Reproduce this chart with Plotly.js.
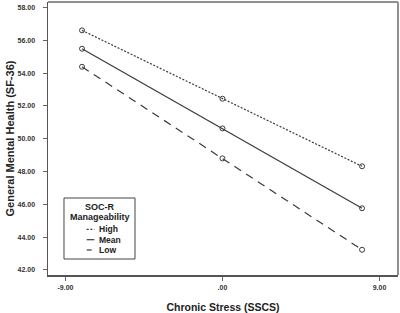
<!DOCTYPE html>
<html>
<head>
<meta charset="utf-8">
<script src="https://cdn.plot.ly/plotly-3.0.1.min.js"></script>
<style>html,body{margin:0;padding:0;background:#fff;}#chart{width:400px;height:313px;}</style>
</head>
<body>
<div id="chart"></div>
<script>
// ---- data ----
var stressX = [-8.05, 0, 8.0];
var highVals = [56.61, 52.44, 48.32];
var meanVals = [55.49, 50.63, 45.76];
var lowVals = [54.39, 48.80, 43.23];
var seriesNames = ['High', 'Mean', 'Low'];
var legendTitle = ['SOC-R', 'Manageability'];
var xTickVals = [-9, 0, 9];
var xTickText = ['-9.00', '.00', '9.00'];
var yTickVals = [42, 44, 46, 48, 50, 52, 54, 56, 58];
var xTitle = 'Chronic Stress (SSCS)';
var yTitle = 'General Mental Health (SF-36)';

// ---- styling ----
var FONT = 'Liberation Sans, Arial, sans-serif';
var lineColor = '#3a3a3a';
var dashes = ['2px,1.6px', 'solid', '8px,6px'];
var seriesVals = [highVals, meanVals, lowVals];

var traces = seriesVals.map(function (vals, i) {
  return {
    x: stressX, y: vals, name: seriesNames[i],
    type: 'scatter', mode: 'lines+markers',
    line: {color: lineColor, width: 1.2, dash: dashes[i]},
    marker: {symbol: 'circle-open', size: 5, color: lineColor, line: {width: 1, color: lineColor}},
    showlegend: false, hoverinfo: 'x+y+name'
  };
});

// legend box geometry (paper coords)
var lgX0 = 0.0457, lgX1 = 0.2486, lgY0 = 0.0586, lgY1 = 0.282;
var itemY = [0.1674, 0.1293, 0.0916];
var sampleX0 = 0.1106, sampleX1 = 0.1323, textX = 0.139;

var shapes = [
  {type: 'line', xref: 'paper', yref: 'paper', x0: 0, x1: 1, y0: 1, y1: 1, line: {color: '#8f8f8f', width: 2}},
  {type: 'line', xref: 'paper', yref: 'paper', x0: 1, x1: 1, y0: 0, y1: 1, line: {color: '#8f8f8f', width: 2}},
  {type: 'rect', xref: 'paper', yref: 'paper', x0: lgX0, x1: lgX1, y0: lgY0, y1: lgY1,
   line: {color: '#444', width: 1}, fillcolor: 'rgba(255,255,255,0)'}
];
var annotations = [
  {xref: 'paper', yref: 'paper', x: (lgX0 + lgX1) / 2, y: 0.248, text: legendTitle[0], showarrow: false,
   xanchor: 'center', yanchor: 'middle', font: {family: FONT, size: 9, weight: 'bold', color: '#222'}},
  {xref: 'paper', yref: 'paper', x: (lgX0 + lgX1) / 2, y: 0.2136, text: legendTitle[1], showarrow: false,
   xanchor: 'center', yanchor: 'middle', font: {family: FONT, size: 9, weight: 'bold', color: '#222'}}
];
seriesNames.forEach(function (nm, i) {
  shapes.push({type: 'line', xref: 'paper', yref: 'paper', x0: sampleX0, x1: sampleX1, y0: itemY[i], y1: itemY[i],
    line: {color: lineColor, width: 1.2, dash: i === 2 ? '5px,3px' : dashes[i]}});
  annotations.push({xref: 'paper', yref: 'paper', x: textX, y: itemY[i], text: nm, showarrow: false,
    xanchor: 'left', yanchor: 'middle', font: {family: FONT, size: 8.5, weight: 'bold', color: '#222'}});
});

var tickFont = {family: FONT, size: 7, weight: 'bold', color: '#333'};

var layout = {
  width: 400, height: 313,
  margin: {l: 48, r: 2, t: 2, b: 38},
  paper_bgcolor: '#fff', plot_bgcolor: '#fff',
  font: {family: FONT},
  xaxis: {
    range: [-10, 10.06], tickvals: xTickVals, ticktext: xTickText,
    ticks: 'outside', ticklen: 4, tickwidth: 1, tickcolor: '#666',
    showline: true, linecolor: '#555', linewidth: 1.5,
    showgrid: false, zeroline: false, tickfont: tickFont, ticklabelstandoff: 1,
    title: {text: xTitle, font: {family: FONT, size: 10.5, weight: 'bold', color: '#222'}}
  },
  yaxis: {
    range: [41.69, 58.34], tickvals: yTickVals, tickformat: '.2f',
    ticks: 'outside', ticklen: 4, tickwidth: 1, tickcolor: '#666',
    showline: true, linecolor: '#555', linewidth: 1.5,
    showgrid: false, zeroline: false, tickfont: tickFont, ticklabelstandoff: 6,
    title: {text: yTitle, font: {family: FONT, size: 11, weight: 'bold', color: '#222'}}
  },
  shapes: shapes,
  annotations: annotations
};

Plotly.newPlot('chart', traces, layout, {displayModeBar: false, staticPlot: true});
</script>
</body>
</html>
